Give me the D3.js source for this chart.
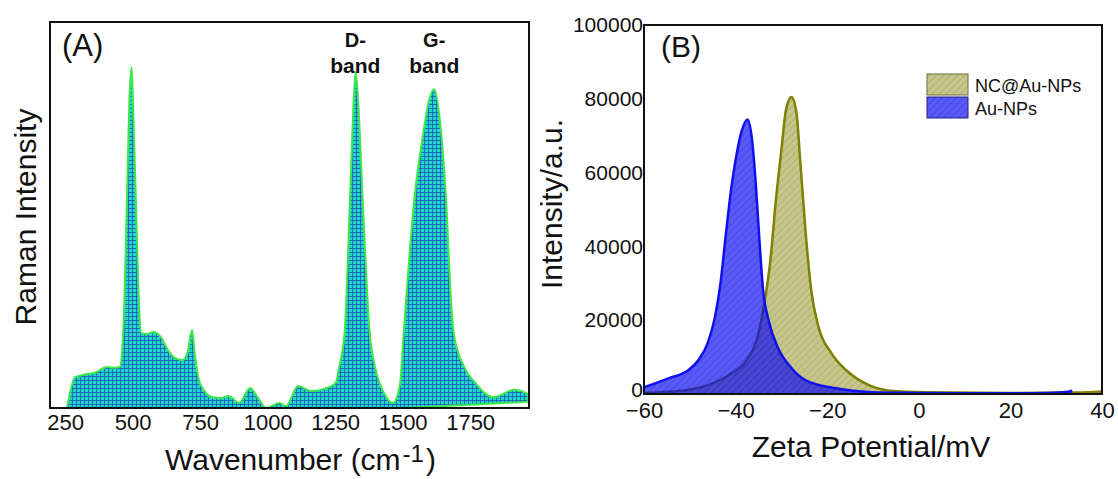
<!DOCTYPE html>
<html>
<head>
<meta charset="utf-8">
<script src="https://cdn.jsdelivr.net/npm/d3@7"></script>
<style>
  body { margin: 0; background: #fff; }
  text { font-family: "Liberation Sans", Arial, sans-serif; fill: #111; }
</style>
</head>
<body>
<svg id="chart" width="1118" height="479"></svg>
<script>
// ---- panel A: Raman spectrum (arbitrary units 0-100)
var ramanWavenumber = [257, 287, 313, 365, 405, 432, 452, 465, 479, 488, 496, 501, 512, 523, 532, 555, 578, 604,
  631, 657, 684, 703, 720, 730, 743, 763, 796, 828, 855, 895, 935, 960, 995, 1042, 1068, 1113, 1161, 1206,
  1252, 1265, 1285, 1305, 1319, 1326, 1335, 1352, 1378, 1398, 1431, 1464, 1490, 1504, 1543, 1576, 1597,
  1617, 1643, 1661, 1679, 1689, 1728, 1769, 1835, 1913, 1965];
var ramanIntensity = [0, 8, 8.5, 9.3, 10.6, 10.4, 10.6, 19.4, 53.9, 79.8, 88.3, 79.8, 53.9, 28, 19.4, 19.2, 19.7, 18.4,
  15, 12.9, 12.4, 14.2, 20.2, 14.2, 8, 4.7, 2.8, 2.6, 3.1, 1.3, 5.2, 3.1, 0, 1.3, 0.5, 5.7, 4.4, 4.9,
  6.5, 10.6, 19.4, 53.9, 79.8, 87, 79.8, 53.9, 19.4, 10.6, 3.9, 1.3, 6, 19.4, 53.9, 71, 79.5,
  82.6, 71, 53.9, 28, 19.4, 10.6, 6.5, 2.8, 4.7, 3.6];
// bottom edge of the filled spectrum (slanted baseline after ~1500 cm-1)
var ramanBaseline = [0, 0, 0, 0, 0, 0, 0, 0, 0, 0, 0, 0, 0, 0, 0, 0, 0, 0,
  0, 0, 0, 0, 0, 0, 0, 0, 0, 0, 0, 0, 0, 0, 0, 0, 0, 0, 0, 0,
  0, 0, 0, 0, 0, 0, 0, 0, 0, 0, 0, 0, 0, 0.02, 0.15, 0.26, 0.33,
  0.4, 0.49, 0.55, 0.61, 0.65, 0.78, 0.92, 1.15, 1.41, 1.6];
var ramanTicks = [250, 500, 750, 1000, 1250, 1500, 1750];

// ---- panel B: zeta potential distributions
var auZeta = [-60, -54.5, -50.5, -48.1, -46.1, -44.5, -43.3, -42.1, -40.9, -40, -38.8, -37.4, -36.4, -35.6,
  -34.8, -34, -32.8, -30.8, -28, -24.8, -18.3, -10.3, 0, 10, 20, 28, 32.5, 33.5];
var auIntensity = [1800, 4300, 6300, 9200, 13800, 20900, 30000, 43600, 56200, 63400, 70700, 74400, 68800, 57100,
  41700, 28200, 20000, 12700, 7300, 3800, 1600, 500, 300, 200, 200, 300, 600, 900];
var ncZeta = [-60, -50.5, -44.8, -40.9, -37.6, -35.2, -33.6, -32.4, -31.2, -30, -29, -27.8, -26.7, -25.9,
  -24.7, -23.5, -21.9, -19.1, -15.9, -11.9, -6.3, 1.8, 20, 35, 40];
var ncIntensity = [300, 1100, 3000, 5600, 9200, 15500, 25500, 36300, 52600, 66100, 77000, 80500, 76100, 63400,
  43600, 28200, 18200, 11100, 6500, 3000, 900, 500, 300, 400, 700];
var zetaTicks = [-60, -40, -20, 0, 20, 40];
var intensityTicks = [0, 20000, 40000, 60000, 80000, 100000];
var legendLabels = ["NC@Au-NPs", "Au-NPs"];

var svg = d3.select("#chart");
svg.append("rect").attr("width", 1118).attr("height", 479).attr("fill", "#fff");

var defs = svg.append("defs");

// teal grid fill of the Raman spectrum
var grid = defs.append("pattern").attr("id", "gridFill")
  .attr("patternUnits", "userSpaceOnUse").attr("width", 4).attr("height", 4);
grid.append("rect").attr("width", 4).attr("height", 4).attr("fill", "#1fd6c2");
grid.append("path").attr("d", "M0,0.4H4M0.4,0V4").attr("stroke", "#2140c4").attr("stroke-width", 0.8);

// hatched fills for the zeta curves
function hatch(id, bg, line) {
  var p = defs.append("pattern").attr("id", id)
    .attr("patternUnits", "userSpaceOnUse").attr("width", 5).attr("height", 5)
    .attr("patternTransform", "rotate(45)");
  p.append("rect").attr("width", 5).attr("height", 5).attr("fill", bg);
  p.append("line").attr("x1", 0).attr("y1", 0).attr("x2", 0).attr("y2", 5)
    .attr("stroke", line).attr("stroke-width", 1.2);
}
hatch("oliveHatch", "rgba(128,128,0,0.45)", "rgba(100,100,0,0.35)");
hatch("blueHatch", "rgba(10,10,245,0.68)", "rgba(0,0,110,0.3)");

defs.append("clipPath").attr("id", "clipA").append("rect")
  .attr("x", 50).attr("y", 22).attr("width", 479).attr("height", 386);
defs.append("clipPath").attr("id", "clipB").append("rect")
  .attr("x", 644).attr("y", 25).attr("width", 458).attr("height", 369);

// ================= panel A =================
var xA = d3.scaleLinear().domain([194, 1968]).range([50, 529]);
var yA = d3.scaleLinear().domain([0, 100]).range([408, 22]);

var ramanData = ramanWavenumber.map(function(w, i) {
  return {w: w, v: ramanIntensity[i], b: ramanBaseline[i]};
});

var areaA = d3.area()
  .x(function(d) { return xA(d.w); })
  .y0(function(d) { return yA(d.b); })
  .y1(function(d) { return yA(d.v); })
  .curve(d3.curveMonotoneX);

svg.append("g").attr("clip-path", "url(#clipA)")
  .append("path").datum(ramanData)
  .attr("d", areaA)
  .attr("fill", "url(#gridFill)")
  .attr("stroke", "#3de84a").attr("stroke-width", 2).attr("stroke-linejoin", "round");

var axA = svg.append("g").attr("transform", "translate(0,408)")
  .call(d3.axisBottom(xA).tickValues(ramanTicks).tickFormat(d3.format("d")).tickSize(0).tickPadding(6));
axA.select(".domain").remove();
axA.selectAll("text").style("font-size", "22px").attr("fill", "#111");

svg.append("rect").attr("x", 50).attr("y", 22).attr("width", 479).attr("height", 386)
  .attr("fill", "none").attr("stroke", "#111").attr("stroke-width", 2);

svg.append("text").attr("x", 62).attr("y", 56).style("font-size", "31px").text("(A)");

var bandLabels = [{w: 1325, top: "D-"}, {w: 1617, top: "G-"}];
bandLabels.forEach(function(b) {
  svg.append("text").attr("x", xA(b.w)).attr("y", 47).attr("text-anchor", "middle")
    .style("font-size", "20px").style("font-weight", "bold").text(b.top);
  svg.append("text").attr("x", xA(b.w)).attr("y", 73).attr("text-anchor", "middle")
    .style("font-size", "21px").style("font-weight", "bold").text("band");
});

var wl = svg.append("text").attr("x", 165).attr("y", 470).style("font-size", "30px");
wl.append("tspan").text("Wavenumber (cm");
wl.append("tspan").attr("dx", 2).attr("dy", -8).style("font-size", "24px").text("-1");
wl.append("tspan").attr("dx", 2).attr("dy", 8).text(")");

svg.append("text").attr("transform", "translate(36,217) rotate(-90)")
  .attr("text-anchor", "middle").style("font-size", "30px").text("Raman Intensity");

// ================= panel B =================
var xB = d3.scaleLinear().domain([-60, 40]).range([644, 1102]);
var yB = d3.scaleLinear().domain([0, 100000]).range([394, 25]);

function toPoints(xs, ys) {
  return xs.map(function(x, i) { return {x: x, y: ys[i]}; });
}
var areaB = d3.area()
  .x(function(d) { return xB(d.x); })
  .y0(yB(0))
  .y1(function(d) { return yB(d.y); })
  .curve(d3.curveMonotoneX);
var lineB = d3.line()
  .x(function(d) { return xB(d.x); })
  .y(function(d) { return yB(d.y); })
  .curve(d3.curveMonotoneX);

var gB = svg.append("g").attr("clip-path", "url(#clipB)");
var ncData = toPoints(ncZeta, ncIntensity);
var auData = toPoints(auZeta, auIntensity);

gB.append("path").datum(ncData).attr("d", areaB).attr("fill", "url(#oliveHatch)");
gB.append("path").datum(ncData).attr("d", lineB).attr("fill", "none")
  .attr("stroke", "#7f7f00").attr("stroke-width", 2.5);
gB.append("path").datum(auData).attr("d", areaB).attr("fill", "url(#blueHatch)");
gB.append("path").datum(auData).attr("d", lineB).attr("fill", "none")
  .attr("stroke", "#1010ee").attr("stroke-width", 2.5);

var axBx = svg.append("g").attr("transform", "translate(0,394)")
  .call(d3.axisBottom(xB).tickValues(zetaTicks).tickSize(0).tickPadding(8));
axBx.select(".domain").remove();
axBx.selectAll("text").style("font-size", "22px").attr("fill", "#111");

var axBy = svg.append("g").attr("transform", "translate(644,0)")
  .call(d3.axisLeft(yB).tickValues(intensityTicks).tickFormat(d3.format("d")).tickSize(0).tickPadding(1));
axBy.select(".domain").remove();
axBy.selectAll("text").style("font-size", "21px").attr("fill", "#111");
// the "0" label sits just above the "-60" label, as in the original
axBy.selectAll(".tick").filter(function(d) { return d === 0; }).select("text").attr("y", -4);

svg.append("rect").attr("x", 644).attr("y", 25).attr("width", 458).attr("height", 369)
  .attr("fill", "none").attr("stroke", "#111").attr("stroke-width", 2);

svg.append("text").attr("x", 661).attr("y", 57).style("font-size", "30px").text("(B)");

// legend
var legendFills = ["url(#oliveHatch)", "url(#blueHatch)"];
var legendStrokes = ["#6b6b40", "#202080"];
legendLabels.forEach(function(lab, i) {
  var y0 = 74 + i * 23;
  svg.append("rect").attr("x", 927).attr("y", y0).attr("width", 41).attr("height", 21)
    .attr("fill", legendFills[i]).attr("stroke", legendStrokes[i]).attr("stroke-width", 1);
  svg.append("text").attr("x", 975).attr("y", y0 + 18).style("font-size", "18px").text(lab);
});

svg.append("text").attr("x", 871).attr("y", 457).attr("text-anchor", "middle")
  .style("font-size", "30px").text("Zeta Potential/mV");

svg.append("text").attr("transform", "translate(562,204) rotate(-90)")
  .attr("text-anchor", "middle").style("font-size", "30px").text("Intensity/a.u.");
</script>
</body>
</html>
